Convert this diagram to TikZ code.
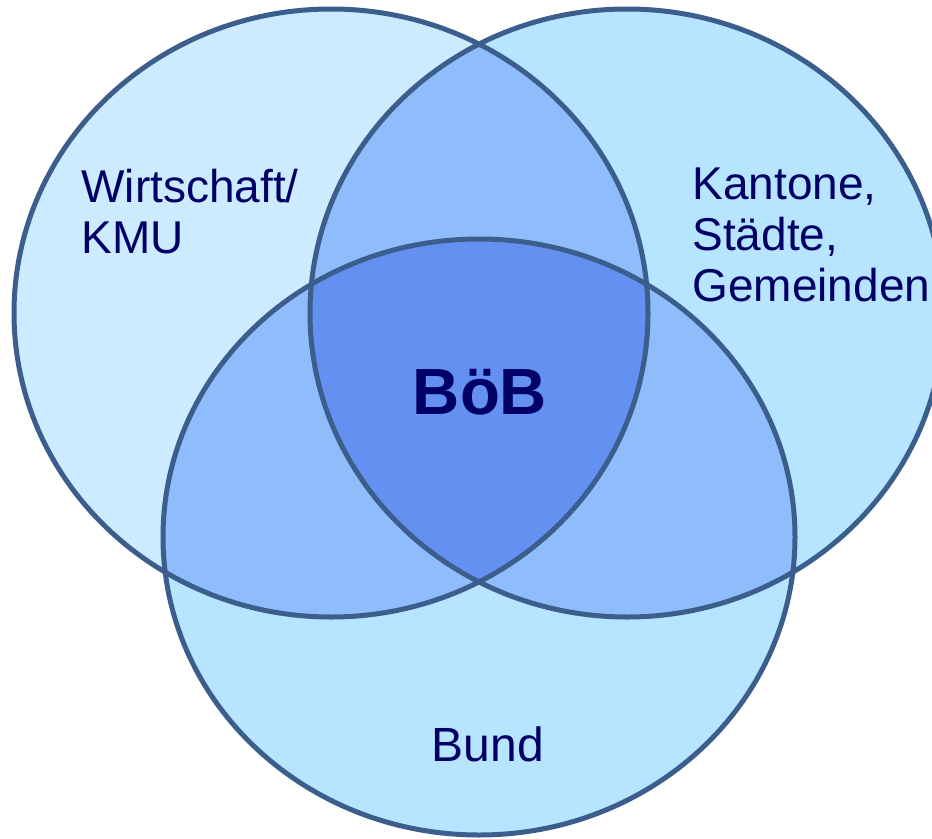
\documentclass[tikz,border=0pt]{standalone}
\usepackage{fontspec}
\setmainfont{Liberation Sans}

\definecolor{vennLeft}{HTML}{CCEBFE}
\definecolor{vennOuter}{HTML}{B7E4FE}
\definecolor{vennPair}{HTML}{8FBCFB}
\definecolor{vennCore}{HTML}{6490F2}
\definecolor{vennLine}{HTML}{3B5E8D}
\definecolor{vennText}{HTML}{000066}

\tikzset{every picture/.style={line width=0.75pt}}
\tikzset{
  setline/.style={draw=vennLine, line width=3.75pt},
  setlabel/.style={text=vennText, inner sep=0pt, align=left, font=\fontsize{34.5}{38}\selectfont}
}

% the three sets
\def\wirtschaftset{(331,313) ellipse [x radius=317, y radius=304]}
\def\kantoneset{(627,313) ellipse [x radius=317, y radius=304]}
\def\bundset{(479,537) ellipse [x radius=316, y radius=298]}

\begin{document}
\begin{tikzpicture}[x=0.75pt,y=0.75pt,yscale=-1,xscale=1]
\useasboundingbox (0,0) rectangle (932,839);
\clip (0,0) rectangle (932,839);

% Plain fills
\fill [vennLeft] \wirtschaftset;
\fill [vennOuter] \kantoneset;
\fill [vennOuter] \bundset;

% Pairwise overlaps
\begin{scope}
  \clip \wirtschaftset;
  \fill [vennPair] \kantoneset;
  \fill [vennPair] \bundset;
\end{scope}
\begin{scope}
  \clip \kantoneset;
  \fill [vennPair] \bundset;
\end{scope}

% Core
\begin{scope}
  \clip \wirtschaftset;
  \clip \kantoneset;
  \fill [vennCore] \bundset;
\end{scope}

% Outlines
\draw [setline] \wirtschaftset;
\draw [setline] \kantoneset;
\draw [setline] \bundset;

% Text Node (base = last line)
\node [setlabel, anchor=base west] (wirtschaft) at (81,253) {Wirtschaft/\\KMU};
% Text Node
\node [setlabel, anchor=base west] (kantone) at (692,301) {Kantone,\\Städte,\\Gemeinden};
% Text Node
\node [setlabel, anchor=base, font=\fontsize{36}{40}\selectfont] (bund) at (488,761) {Bund};
% Text Node
\node [setlabel, anchor=base, font=\bfseries\fontsize{49}{54}\selectfont] (boeb) at (480,414) {BöB};

\end{tikzpicture}
\end{document}
